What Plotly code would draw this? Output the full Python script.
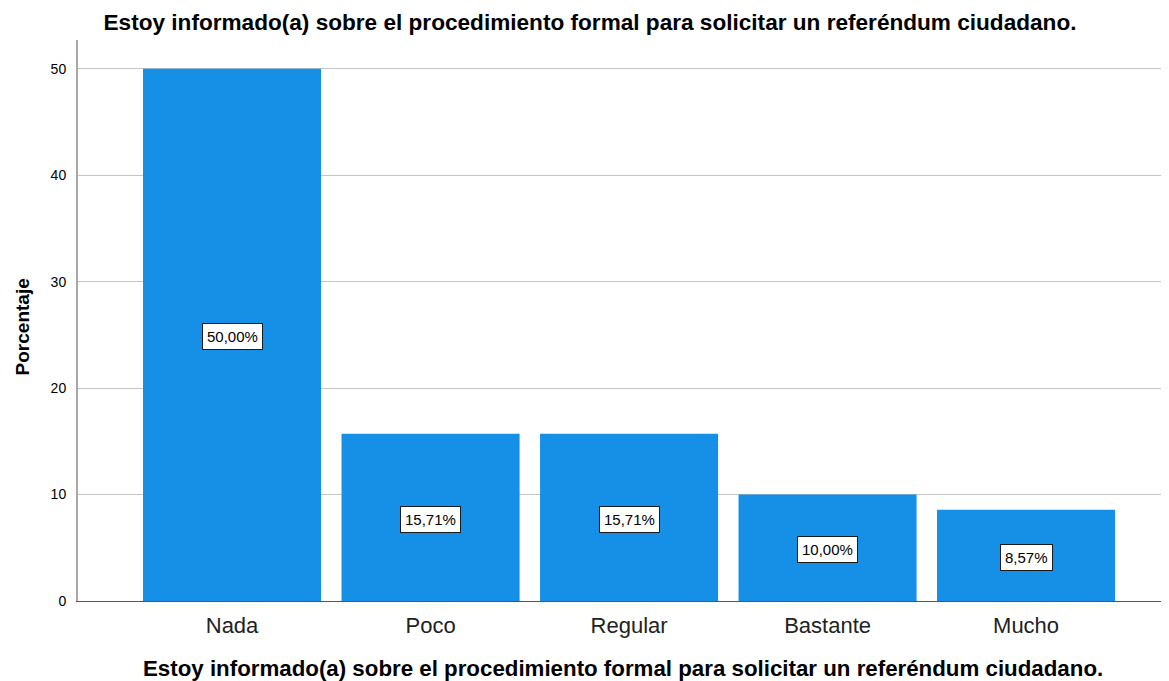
import plotly.graph_objects as go

categories = ["Nada", "Poco", "Regular", "Bastante", "Mucho"]
percent = [50.00, 15.71, 15.71, 10.00, 8.57]
labels = ["50,00%", "15,71%", "15,71%", "10,00%", "8,57%"]
y_ticks = [0, 10, 20, 30, 40, 50]

title_text = "Estoy informado(a) sobre el procedimiento formal para solicitar un referéndum ciudadano."
font = "Liberation Sans, Arial, sans-serif"

xpos = list(range(len(categories)))

# the html page has an 8px body margin, so the figure is sized to fit the window
W, H = 1161, 673

fig = go.Figure()
fig.add_trace(go.Bar(
    x=xpos,
    y=percent,
    width=0.897,
    marker={"color": "#1590e6", "line": {"width": 0}},
    hoverinfo="skip",
))

# boxed value labels in the middle of each bar
for x, v, lab in zip(xpos, percent, labels):
    fig.add_annotation(
        x=x, y=v / 2, yshift=-2, text=lab, showarrow=False,
        font={"family": font, "size": 15, "color": "#000000"},
        bgcolor="#ffffff", bordercolor="#1a1a1a", borderwidth=1, borderpad=4,
    )

# x axis title
fig.add_annotation(
    xref="paper", yref="paper", x=0.5, y=0, yanchor="middle", yshift=-67, xshift=-1,
    text="<b>" + title_text + "</b>", showarrow=False,
    font={"family": font, "size": 22.3, "color": "#000000"},
)
# y axis title
fig.add_annotation(
    xref="paper", yref="y", x=0, y=25.7, xanchor="center", xshift=-56,
    text="<b>Porcentaje</b>", textangle=-90, showarrow=False,
    font={"family": font, "size": 19, "color": "#000000"},
)

fig.update_layout(
    width=W, height=H,
    margin={"l": 70, "r": 0, "t": 32, "b": 80},
    paper_bgcolor="#ffffff", plot_bgcolor="#ffffff",
    showlegend=False,
    font={"family": font, "color": "#000000"},
    title={
        "text": "<b>" + title_text + "</b>",
        "x": 582 / W, "xanchor": "center", "y": 1 - 14 / H, "yanchor": "middle",
        "font": {"family": font, "size": 22.6, "color": "#000000"},
    },
    xaxis={
        "range": [-0.776, 4.72],
        "tickvals": xpos, "ticktext": categories,
        "tickfont": {"family": font, "size": 22, "color": "#222222"},
        "showgrid": False, "zeroline": False,
        "showline": True, "linecolor": "#555555", "linewidth": 1,
        "ticks": "", "ticklabelstandoff": 5,
        "automargin": False,
    },
    yaxis={
        "range": [0, 52.7],
        "tickvals": y_ticks,
        "tickfont": {"family": font, "size": 14, "color": "#000000"},
        "showgrid": True, "gridcolor": "#c4c4c4", "gridwidth": 1,
        "zeroline": False,
        "showline": True, "linecolor": "#a8a8a8", "linewidth": 2,
        "ticks": "", "ticklabelstandoff": 7,
        "automargin": False,
    },
)

fig.write_html("out.html")
